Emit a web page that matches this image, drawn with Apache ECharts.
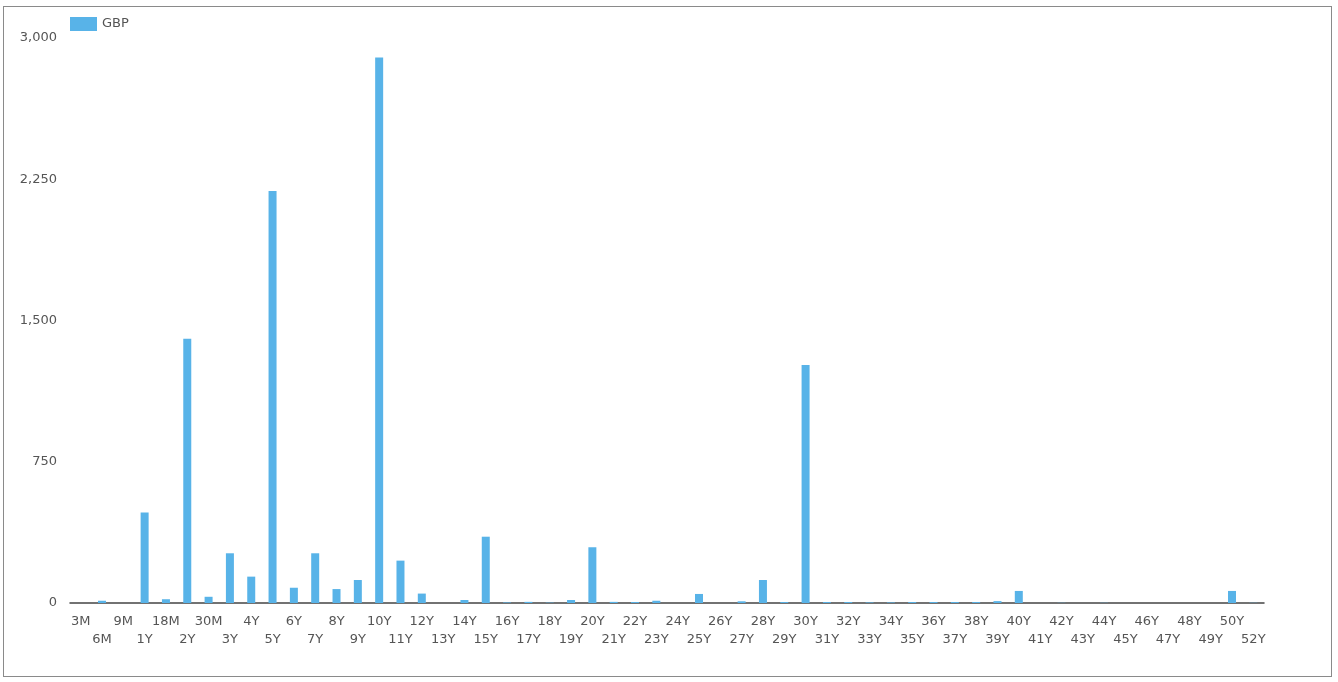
<!DOCTYPE html>
<html>
<head>
<meta charset="utf-8">
<script src="https://cdn.jsdelivr.net/npm/echarts@6/dist/echarts.min.js"></script>
<style>
html,body{margin:0;padding:0;background:#fff;}
#frame{position:absolute;left:3px;top:6px;width:1327px;height:669px;border:1px solid #8a8a8a;pointer-events:none;}
#chart{position:absolute;left:0;top:0;width:1338px;height:682px;}
</style>
</head>
<body>
<div id="chart"></div>
<div id="frame"></div>
<script>
const categories = ['3M','6M','9M','1Y','18M','2Y','30M','3Y','4Y','5Y','6Y','7Y','8Y','9Y','10Y','11Y','12Y','13Y','14Y','15Y','16Y','17Y','18Y','19Y','20Y','21Y','22Y','23Y','24Y','25Y','26Y','27Y','28Y','29Y','30Y','31Y','32Y','33Y','34Y','35Y','36Y','37Y','38Y','39Y','40Y','41Y','42Y','43Y','44Y','45Y','46Y','47Y','48Y','49Y','50Y','52Y'];
const gbpValues = [0,12,0,480,20,1403,33,264,140,2188,81,264,74,122,2897,225,50,0,16,352,3,6,2,16,296,6,5,12,0,48,0,9,122,5,1264,5,5,3,3,5,5,5,5,10,64,0,1,0,1,0,0,0,0,0,64,1];
const yTicks = [0,750,1500,2250,3000];

const chart = echarts.init(document.getElementById('chart'));
const font = 'DejaVu Sans, Verdana, sans-serif';
chart.setOption({
  animation: false,
  textStyle: {fontFamily: font},
  legend: {
    left: 70, top: 17, padding: 0, itemWidth: 27, itemHeight: 14, itemGap: 5,
    icon: 'rect',
    textStyle: {fontFamily: font, fontSize: 13, color: '#555'},
    data: ['GBP']
  },
  grid: {left: 70, right: 74, top: 38, bottom: 79, containLabel: false},
  xAxis: {
    type: 'category',
    data: categories,
    axisLine: {lineStyle: {color: '#444', width: 1.5}},
    axisTick: {show: false},
    axisLabel: {
      interval: 0, color: '#555', fontFamily: font, fontSize: 13, lineHeight: 18, margin: 10,
      formatter: (v, i) => (i % 2 ? '\n' + v : v)
    }
  },
  yAxis: {
    type: 'value', min: yTicks[0], max: yTicks[yTicks.length-1], interval: yTicks[1]-yTicks[0],
    axisLine: {show: false}, axisTick: {show: false}, splitLine: {show: false},
    axisLabel: {color: '#555', fontFamily: font, fontSize: 13, margin: 13,
      formatter: v => v.toLocaleString('en-US')}
  },
  series: [{
    name: 'GBP', type: 'bar', data: gbpValues, barWidth: 8,
    itemStyle: {color: '#58b3e8'}
  }]
});
</script>
</body>
</html>
